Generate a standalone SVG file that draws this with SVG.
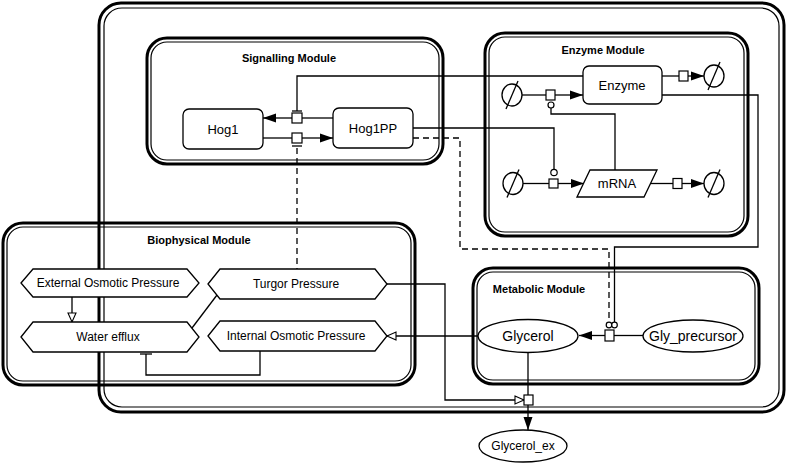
<svg xmlns="http://www.w3.org/2000/svg" width="787" height="464" viewBox="0 0 787 464">
<style>
.co{fill:none;stroke:#000;stroke-width:3}
.ci{fill:none;stroke:#000;stroke-width:1.2}
.ln{fill:none;stroke:#000;stroke-width:1.3}
.ds{fill:none;stroke:#000;stroke-width:1.3;stroke-dasharray:6,4}
.nd{fill:#fff;stroke:#000;stroke-width:1.3}
.pr{fill:#fff;stroke:#000;stroke-width:1.2}
.t{font-family:"Liberation Sans",Arial,sans-serif;fill:#000;text-anchor:middle}
.tt{font-family:"Liberation Sans",Arial,sans-serif;font-weight:bold;font-size:11px;fill:#000;text-anchor:middle}
</style>
<defs>
<marker id="af" markerUnits="userSpaceOnUse" markerWidth="14" markerHeight="10" refX="13" refY="5" orient="auto">
<path d="M0,0.5 L13,5 L0,9.5 z" fill="#000"/>
</marker>
<marker id="ah" markerUnits="userSpaceOnUse" markerWidth="12" markerHeight="12" refX="10" refY="5" orient="auto">
<path d="M1,1 L10,5 L1,9 z" fill="#fff" stroke="#000" stroke-width="1.1"/>
</marker>
<g id="empty">
<ellipse cx="0" cy="0" rx="10" ry="11" fill="#fff" stroke="#000" stroke-width="1.3"/>
<line x1="-6" y1="14" x2="6" y2="-14" stroke="#000" stroke-width="1.3"/>
</g>
</defs>
<rect width="787" height="464" fill="#fff"/>

<g id="compartments">
<g id="outer">
<rect class="co" x="99" y="3" width="685" height="409" rx="22"/>
<rect class="ci" x="104" y="8" width="675" height="399" rx="18"/>
</g>
<g id="signalling">
<rect class="co" x="147" y="38" width="296" height="126" rx="20"/>
<rect class="ci" x="151" y="42" width="288" height="118" rx="16"/>
<text class="tt" x="289" y="62">Signalling Module</text>
</g>
<g id="enzymeModule">
<rect class="co" x="485" y="33" width="263" height="203" rx="20"/>
<rect class="ci" x="489" y="37" width="255" height="195" rx="16"/>
<text class="tt" x="603" y="54">Enzyme Module</text>
</g>
<g id="biophysical">
<rect class="co" x="3" y="223" width="412" height="162" rx="20"/>
<rect class="ci" x="7" y="227" width="404" height="154" rx="16"/>
<text class="tt" x="199" y="244">Biophysical Module</text>
</g>
<g id="metabolic">
<rect class="co" x="473" y="268" width="286" height="116" rx="20"/>
<rect class="ci" x="477" y="272" width="278" height="108" rx="16"/>
<text class="tt" x="539" y="293">Metabolic Module</text>
</g>
</g>

<g id="connectors">
<!-- Hog1PP -> Hog1 -->
<line class="ln" x1="333" y1="118" x2="302" y2="118"/>
<line class="ln" x1="292" y1="118" x2="263" y2="118" marker-end="url(#af)"/>
<!-- Hog1 -> Hog1PP -->
<line class="ln" x1="263" y1="138" x2="292" y2="138"/>
<line class="ln" x1="302" y1="138" x2="333" y2="138" marker-end="url(#af)"/>
<!-- Enzyme -> dephosphorylation -->
<polyline class="ln" points="583,76 297,76 297,111"/>
<line class="ln" x1="292" y1="111" x2="302" y2="111"/>
<!-- phosphorylation -> Turgor (dashed) -->
<line class="ln" x1="292" y1="146" x2="302" y2="146"/>
<line class="ds" x1="297" y1="148" x2="297" y2="269"/>
<!-- Hog1PP -> mRNA production -->
<polyline class="ln" points="413,128 554,128 554,169"/>
<!-- Hog1PP dashed -> glycerol reaction -->
<polyline class="ds" points="413,138 460,138 460,249 609,249 609,322"/>
<!-- Enzyme -> glycerol reaction -->
<polyline class="ln" points="662,95 758,95 758,247 614.5,247 614.5,322"/>
<!-- enzyme production -->
<line class="ln" x1="522" y1="95" x2="546" y2="95"/>
<line class="ln" x1="555" y1="95" x2="583" y2="95" marker-end="url(#af)"/>
<polyline class="ln" points="615,170 615,114 551,114 551,108"/>
<!-- enzyme degradation -->
<line class="ln" x1="662" y1="76" x2="679" y2="76"/>
<line class="ln" x1="688" y1="76" x2="704" y2="76" marker-end="url(#af)"/>
<!-- mRNA production -->
<line class="ln" x1="523" y1="183.5" x2="549" y2="183.5"/>
<line class="ln" x1="558" y1="183.5" x2="584" y2="183.5" marker-end="url(#af)"/>
<!-- mRNA degradation -->
<line class="ln" x1="650" y1="183.5" x2="673" y2="183.5"/>
<line class="ln" x1="682" y1="183.5" x2="704" y2="183.5" marker-end="url(#af)"/>
<!-- glycerol synthesis -->
<line class="ln" x1="643" y1="335.5" x2="614" y2="335.5"/>
<line class="ln" x1="605" y1="335.5" x2="579" y2="335.5" marker-end="url(#af)"/>
<!-- Glycerol -> Internal Osmotic Pressure -->
<line class="ln" x1="478" y1="336" x2="387" y2="336" marker-end="url(#ah)"/>
<!-- Glycerol transport -->
<line class="ln" x1="528" y1="352" x2="528" y2="395"/>
<line class="ln" x1="528" y1="405" x2="528" y2="430" marker-end="url(#af)"/>
<!-- Turgor -> transport -->
<polyline class="ln" points="387,284 445,284 445,400 524,400" marker-end="url(#ah)"/>
<!-- External -> Water efflux -->
<line class="ln" x1="72" y1="297" x2="72" y2="322" marker-end="url(#ah)"/>
<!-- Water efflux -> Turgor -->
<line class="ln" x1="192" y1="328" x2="217" y2="295"/>
<!-- Internal -| Water efflux -->
<polyline class="ln" points="260,351 260,375 146,375 146,354"/>
<line class="ln" x1="140" y1="354" x2="152" y2="354"/>
</g>

<g id="processes">
<rect class="pr" x="292" y="113" width="10" height="10"/>
<rect class="pr" x="292" y="133" width="10" height="10"/>
<rect class="pr" x="546" y="90" width="9" height="10"/>
<circle class="pr" cx="551" cy="105" r="3"/>
<rect class="pr" x="549" y="179" width="9" height="9"/>
<circle class="pr" cx="554" cy="172.5" r="3.2"/>
<rect class="pr" x="679" y="71" width="9" height="10"/>
<rect class="pr" x="673" y="178.5" width="9" height="10"/>
<rect class="pr" x="605" y="330" width="9" height="11"/>
<circle class="pr" cx="609" cy="325" r="2.8"/>
<circle class="pr" cx="614.5" cy="325" r="2.8"/>
<rect class="pr" x="524" y="395" width="9" height="10"/>
</g>

<g id="sinks">
<use href="#empty" x="512" y="95"/>
<use href="#empty" x="513" y="183.5"/>
<use href="#empty" x="714" y="76"/>
<use href="#empty" x="714" y="183.5"/>
</g>

<g id="Hog1">
<rect class="nd" x="183" y="109" width="80" height="40" rx="6"/>
<text class="t" x="223" y="134" font-size="13">Hog1</text>
</g>
<g id="Hog1PP">
<rect class="nd" x="333" y="108" width="80" height="40" rx="6"/>
<text class="t" x="373" y="133" font-size="13">Hog1PP</text>
</g>
<g id="Enzyme">
<rect class="nd" x="583" y="66" width="79" height="38" rx="6"/>
<text class="t" x="622" y="90" font-size="13">Enzyme</text>
</g>
<g id="mRNA">
<polygon class="nd" points="577,197 590,170 657,170 644,197"/>
<text class="t" x="617" y="188" font-size="13">mRNA</text>
</g>
<g id="ExternalOsmoticPressure">
<polygon class="nd" points="21,283 33,269 187,269 199,283 187,297 33,297"/>
<text class="t" x="108" y="287" font-size="12">External Osmotic Pressure</text>
</g>
<g id="WaterEfflux">
<polygon class="nd" points="21,337 33,322 187,322 199,337 187,352 33,352"/>
<text class="t" x="108" y="341" font-size="12">Water efflux</text>
</g>
<g id="TurgorPressure">
<polygon class="nd" points="208,284 220,269 375,269 387,284 375,299 220,299"/>
<text class="t" x="296" y="288" font-size="12">Turgor Pressure</text>
</g>
<g id="InternalOsmoticPressure">
<polygon class="nd" points="208,336 220,321 375,321 387,336 375,351 220,351"/>
<text class="t" x="296" y="340" font-size="12">Internal Osmotic Pressure</text>
</g>
<g id="Glycerol">
<ellipse class="nd" cx="528" cy="336" rx="50" ry="16.5"/>
<text class="t" x="528" y="341" font-size="14">Glycerol</text>
</g>
<g id="Gly_precursor">
<ellipse class="nd" cx="693" cy="336" rx="50" ry="16"/>
<text class="t" x="693" y="341" font-size="14">Gly_precursor</text>
</g>
<g id="Glycerol_ex">
<ellipse class="nd" cx="523" cy="446" rx="44" ry="16"/>
<text class="t" x="523" y="450" font-size="12">Glycerol_ex</text>
</g>
</svg>
